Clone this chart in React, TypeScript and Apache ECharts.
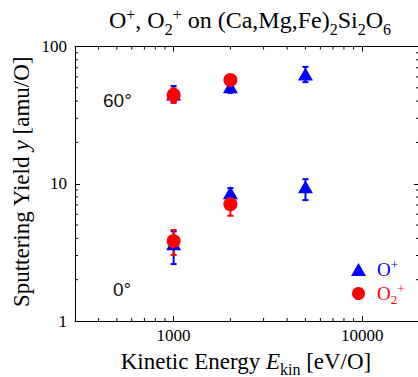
import React, { useEffect, useRef } from 'react';
import * as echarts from 'echarts';

// O+ (blue triangles): 0° and 60° incidence
const energyOp = [1000, 2000, 5000, 1000, 2000, 5000];
const yieldOp = [3.65, 8.6, 9.5, 45, 51, 63];
const lowOp = [2.6, 7.9, 7.6, 39.5, 46, 55];
const highOp = [4.5, 9.3, 10.8, 51.5, 56, 71];

// O2+ (red circles): 0° and 60° incidence
const energyO2 = [1000, 2000, 1000, 2000];
const yieldO2 = [3.83, 7.1, 44.3, 57];
const lowO2 = [3.03, 5.85, 38.8, 50];
const highO2 = [4.6, 8.35, 49.5, 62];

const xTickLabels = [1000, 10000];
const yTickLabels = [1, 10, 100];
const xMinorTicks = [400, 500, 600, 700, 800, 900, 2000, 3000, 4000, 5000, 6000, 7000, 8000, 9000];
const yMinorTicks = [2, 3, 4, 5, 6, 7, 8, 9, 20, 30, 40, 50, 60, 70, 80, 90];
const angleLabels = ['60°', '0°'];

const SERIF = '"Liberation Serif", "Times New Roman", serif';
const SANS = '"Liberation Sans", Arial, sans-serif';
const BLUE = '#0000ff';
const RED = '#ff0000';

function errBarItem(color: string) {
  return (params: any, api: any) => {
    const x = api.value(0);
    const lo = api.value(1);
    const hi = api.value(2);
    const pLo = api.coord([x, lo]);
    const pHi = api.coord([x, hi]);
    const w = 3;
    const style = { stroke: color, lineWidth: 2 };
    return {
      type: 'group',
      children: [
        { type: 'line', shape: { x1: pLo[0], y1: pLo[1], x2: pHi[0], y2: pHi[1] }, style },
        { type: 'line', shape: { x1: pLo[0] - w, y1: pLo[1], x2: pLo[0] + w, y2: pLo[1] }, style },
        { type: 'line', shape: { x1: pHi[0] - w, y1: pHi[1], x2: pHi[0] + w, y2: pHi[1] }, style },
      ],
    };
  };
}

function tokens(size: number, color?: string) {
  const base: any = { fontFamily: SERIF, fontSize: size, lineHeight: size + 4 };
  if (color) base.fill = color;
  const small = Math.round(size * 0.68);
  return {
    m: { ...base },
    i: { ...base, fontStyle: 'italic' },
    sup: { ...base, fontSize: small, lineHeight: small, padding: [0, 0, Math.round(size * 0.5), 0] },
    sub: { ...base, fontSize: small, lineHeight: small, padding: [Math.round(size * 0.75), 0, 0, 0] },
  };
}

export default function App() {
  const ref = useRef<HTMLDivElement>(null);
  useEffect(() => {
    document.body.style.margin = '0';
    if (!ref.current) return;
    const chart = echarts.init(ref.current, null, { renderer: 'svg' });
    const axisCommon = {
      type: 'log' as const,
      logBase: 10,
      axisLine: { lineStyle: { color: '#000', width: 1 } },
      axisTick: { inside: true, length: 5, lineStyle: { color: '#000', width: 1 } },
      splitLine: { show: false },
      minorTick: { show: false },
    };
    const option: any = {
      animation: false,
      backgroundColor: '#fff',
      grid: { left: 75, top: 46.5, width: 344, height: 274.5, containLabel: false, outerBoundsMode: 'none' },
      xAxis: [
        {
          ...axisCommon,
          min: 300,
          max: 20000,
          position: 'bottom',
          axisLabel: {
            formatter: (v: number) => (xTickLabels.includes(Math.round(v)) ? String(Math.round(v)) : ''),
            fontFamily: SERIF,
            fontSize: 17,
            color: '#000',
            margin: 6,
          },
        },
        { ...axisCommon, min: 300, max: 20000, position: 'top', axisLabel: { show: false } },
      ],
      yAxis: [
        {
          ...axisCommon,
          min: 1,
          max: 100,
          position: 'left',
          axisLabel: {
            formatter: (v: number) => (yTickLabels.includes(Math.round(v)) ? String(Math.round(v)) : ''),
            fontFamily: SERIF,
            fontSize: 17,
            color: '#000',
            margin: 8,
          },
        },
        { ...axisCommon, min: 1, max: 100, position: 'right', axisLabel: { show: false } },
      ],
      legend: {
        orient: 'vertical',
        left: 346,
        top: 253,
        itemWidth: 15,
        itemHeight: 13,
        itemGap: 0,
        data: [
          { name: 'O+', icon: 'triangle', textStyle: { color: BLUE } },
          { name: 'O2+', icon: 'circle', textStyle: { color: RED } },
        ],
        formatter: (name: string) => (name === 'O+' ? '{m|O}{sup|+}' : '{m|O}{sub|2}{sup|+}'),
        textStyle: {
          fontFamily: SERIF,
          fontSize: 19,
          rich: {
            m: { fontFamily: SERIF, fontSize: 19, lineHeight: 20, padding: [0, 0, 0, 6] },
            sup: { fontFamily: SERIF, fontSize: 13, lineHeight: 13, padding: [0, 0, 10, 0] },
            sub: { fontFamily: SERIF, fontSize: 13, lineHeight: 13, padding: [12, 0, 0, 0] },
          },
        },
      },
      graphic: [
        {
          type: 'text',
          x: 250,
          y: 20,
          style: {
            text: '{m|O}{sup|+}{m|, O}{sub|2}{sup|+}{m| on (Ca,Mg,Fe)}{sub|2}{m|Si}{sub|2}{m|O}{sub|6}',
            align: 'center',
            verticalAlign: 'middle',
            fill: '#000',
            fontFamily: SERIF,
            fontSize: 24,
            rich: tokens(24),
          },
        },
        {
          type: 'text',
          x: 246,
          y: 361,
          style: {
            text: '{m|Kinetic Energy }{i|E}{sub|kin}{m| [eV/O]}',
            align: 'center',
            verticalAlign: 'middle',
            fill: '#000',
            fontFamily: SERIF,
            fontSize: 23,
            rich: tokens(23),
          },
        },
        {
          type: 'text',
          x: 21,
          y: 182,
          rotation: Math.PI / 2,
          style: {
            text: '{m|Sputtering Yield }{i|y}{m| [amu/O]}',
            align: 'center',
            verticalAlign: 'middle',
            fill: '#000',
            fontFamily: SERIF,
            fontSize: 23,
            rich: tokens(23),
          },
        },
        {
          type: 'text',
          x: 103,
          y: 100,
          style: { text: angleLabels[0], fill: '#111', fontFamily: SANS, fontSize: 19, align: 'left', verticalAlign: 'middle' },
        },
        {
          type: 'text',
          x: 113,
          y: 289,
          style: { text: angleLabels[1], fill: '#111', fontFamily: SANS, fontSize: 19, align: 'left', verticalAlign: 'middle' },
        },
      ],
      series: [
        {
          type: 'custom',
          name: 'xminor',
          xAxisIndex: 0,
          yAxisIndex: 0,
          silent: true,
          data: xMinorTicks.map((v) => [v, 10]),
          renderItem: (params: any, api: any) => {
            const cs = params.coordSys;
            const p = api.coord([api.value(0), 10]);
            const style = { stroke: '#000', lineWidth: 1 };
            return {
              type: 'group',
              children: [
                { type: 'line', shape: { x1: p[0], y1: cs.y + cs.height, x2: p[0], y2: cs.y + cs.height - 3 }, style },
                { type: 'line', shape: { x1: p[0], y1: cs.y, x2: p[0], y2: cs.y + 3 }, style },
              ],
            };
          },
        },
        {
          type: 'custom',
          name: 'yminor',
          xAxisIndex: 0,
          yAxisIndex: 0,
          silent: true,
          data: yMinorTicks.map((v) => [1000, v]),
          renderItem: (params: any, api: any) => {
            const cs = params.coordSys;
            const p = api.coord([1000, api.value(1)]);
            const style = { stroke: '#000', lineWidth: 1 };
            return {
              type: 'group',
              children: [
                { type: 'line', shape: { x1: cs.x, y1: p[1], x2: cs.x + 3, y2: p[1] }, style },
                { type: 'line', shape: { x1: cs.x + cs.width, y1: p[1], x2: cs.x + cs.width - 3, y2: p[1] }, style },
              ],
            };
          },
        },
        {
          type: 'custom',
          name: 'errOp',
          xAxisIndex: 0,
          yAxisIndex: 0,
          data: energyOp.map((e, i) => [e, lowOp[i], highOp[i]]),
          encode: { x: 0, y: [1, 2] },
          renderItem: errBarItem(BLUE),
        },
        {
          type: 'scatter',
          name: 'O+',
          symbol: 'triangle',
          symbolSize: [15, 13],
          itemStyle: { color: BLUE, opacity: 1 },
          data: energyOp.map((e, i) => [e, yieldOp[i]]),
        },
        {
          type: 'custom',
          name: 'errO2',
          xAxisIndex: 0,
          yAxisIndex: 0,
          data: energyO2.map((e, i) => [e, lowO2[i], highO2[i]]),
          encode: { x: 0, y: [1, 2] },
          renderItem: errBarItem(RED),
        },
        {
          type: 'scatter',
          name: 'O2+',
          symbol: 'circle',
          symbolSize: 14,
          itemStyle: { color: RED, opacity: 1 },
          data: energyO2.map((e, i) => [e, yieldO2[i]]),
        },
      ],
    };
    chart.setOption(option);
    return () => chart.dispose();
  }, []);
  return <div ref={ref} style={{ width: 418, height: 377 }} />;
}
